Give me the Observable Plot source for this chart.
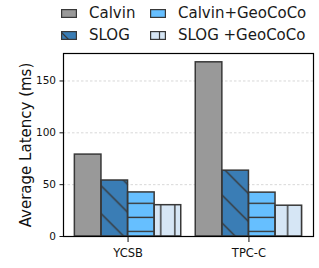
<!DOCTYPE html>
<html><head><meta charset="utf-8">
<script src="https://cdn.jsdelivr.net/npm/d3@7"></script>
<script src="https://cdn.jsdelivr.net/npm/@observablehq/plot@0.6"></script>
<style>
body{margin:0;background:#fff;font-family:"DejaVu Sans",sans-serif;}
#wrap{position:relative;width:319px;height:268px;overflow:hidden;background:#fff}
#legend{position:relative;height:45px;}
.sw{position:absolute;width:16px;height:9px;}
.lt{position:absolute;font-size:15px;line-height:18px;height:18px;color:#1a1a1a;white-space:pre;}
#chart svg{display:block}
</style></head><body>
<div id="wrap"><div id="legend"></div><div id="chart"></div></div>
<script>
const categories = ["YCSB", "TPC-C"];
const series = ["Calvin", "SLOG", "Calvin+GeoCoCo", "SLOG +GeoCoCo"];
const calvin = [79, 168];
const slog = [54, 63.5];
const calvinGeo = [42.5, 42.3];
const slogGeo = [30.2, 29.7];
const yTicks = [0, 50, 100, 150];
const colors = ["#999999", "#3a7db5", "#66bfff", "#d6e6f5"];
const hatches = [null, "diag", "horiz", "vert"];
const edge = "#383838";

const values = [calvin, slog, calvinGeo, slogGeo];
const w = 0.22;
const rows = [];
categories.forEach((c, ci) => series.forEach((s, si) => rows.push({
  category: c, series: s, value: values[si][ci],
  x1: ci + (si - 2) * w, x2: ci + (si - 1) * w, hatch: hatches[si]
})));

const hatchMarks = ["diag", "horiz", "vert"].map(h =>
  Plot.rect(rows.filter(d => d.hatch === h), {x1: "x1", x2: "x2", y1: 0, y2: "value", fill: "black", ariaDescription: "hatch-" + h})
);

const chart = Plot.plot({
  width: 319, height: 223,
  marginLeft: 63, marginRight: 6, marginTop: 8, marginBottom: 32,
  x: {type: "linear", domain: [-0.534, 1.534]},
  y: {domain: [0, 176.5]},
  color: {domain: series, range: colors},
  style: {fontFamily: "DejaVu Sans", fontSize: "11px", color: "#111", background: "#fff", overflow: "visible"},
  marks: [
    Plot.gridY(yTicks.slice(1), {stroke: "#b8b8b8", strokeOpacity: 0.7, strokeDasharray: "2.5,2", strokeWidth: 0.8}),
    Plot.rect(rows, {x1: "x1", x2: "x2", y1: 0, y2: "value", fill: "series"}),
    ...hatchMarks,
    Plot.rect(rows, {x1: "x1", x2: "x2", y1: 0, y2: "value", fill: "none", stroke: edge, strokeWidth: 1.5}),
    Plot.frame({stroke: "#000", strokeWidth: 1.2}),
    Plot.axisY({ticks: yTicks, tickSize: 3.5, tickPadding: 4, fontSize: 10.5, label: null}),
    Plot.axisY({ticks: [], tickSize: 0, fontSize: 15, label: "Average Latency (ms)", labelAnchor: "center", labelOffset: 43, labelArrow: "none"}),
    Plot.axisX({ticks: [0, 1], tickFormat: i => categories[i], tickSize: 6, tickPadding: 6, fontSize: 11.5, label: null})
  ]
});

const SVGNS = "http://www.w3.org/2000/svg";
const dEl = document.createElementNS(SVGNS, "defs");
function mkPattern(id, w, h, d) {
  const p = document.createElementNS(SVGNS, "pattern");
  p.setAttribute("id", id);
  p.setAttribute("patternUnits", "userSpaceOnUse");
  p.setAttribute("width", w);
  p.setAttribute("height", h);
  const path = document.createElementNS(SVGNS, "path");
  path.setAttribute("d", d);
  path.setAttribute("stroke", edge);
  path.setAttribute("stroke-width", "1.4");
  path.setAttribute("fill", "none");
  p.appendChild(path);
  dEl.appendChild(p);
}
mkPattern("hdiag", 27.9, 27.9, "M-2,9.8L30,41.8M-2,-18.1L30,13.9");
mkPattern("hhoriz", 10, 14.1, "M-1,3.2L11,3.2");
mkPattern("hvert", 14.1, 10, "M5.6,-1L5.6,11");
chart.insertBefore(dEl, chart.firstChild);
["diag", "horiz", "vert"].forEach(h => {
  chart.querySelectorAll(`[aria-description="hatch-${h}"]`).forEach(g => {
    g.setAttribute("fill", `url(#h${h})`);
    g.querySelectorAll("rect").forEach(r => r.setAttribute("fill", `url(#h${h})`));
  });
});
document.getElementById("chart").appendChild(chart);

// legend
const legend = document.getElementById("legend");
const pos = [[61, 9, 89, 4.1], [61, 31, 89, 26.3], [150, 9, 178, 4.1], [150, 31, 178, 26.3]];
const swExtra = [
  "",
  `<path d="M0,1L8,9" stroke="${edge}" stroke-width="1.2"/>`,
  "",
  `<path d="M9.5,0L9.5,9" stroke="${edge}" stroke-width="1.2"/>`
];
series.forEach((s, i) => {
  const [sx, sy, tx, ty] = pos[i];
  const sw = document.createElement("div");
  sw.className = "sw";
  sw.style.left = sx + "px"; sw.style.top = sy + "px";
  sw.innerHTML = `<svg width="16" height="9" style="display:block"><rect x="0.6" y="0.6" width="14.8" height="7.8" fill="${colors[i]}" stroke="none"/>${swExtra[i]}<rect x="0.6" y="0.6" width="14.8" height="7.8" fill="none" stroke="${edge}" stroke-width="1.2"/></svg>`;
  legend.appendChild(sw);
  const t = document.createElement("div");
  t.className = "lt";
  t.style.left = tx + "px"; t.style.top = ty + "px";
  t.textContent = s;
  legend.appendChild(t);
});
</script>
</body></html>
